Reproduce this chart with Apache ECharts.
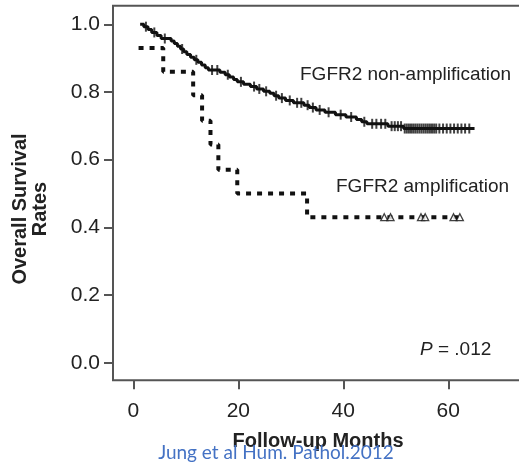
<!DOCTYPE html>
<html>
<head>
<meta charset="utf-8">
<script src="https://cdn.jsdelivr.net/npm/echarts@6/dist/echarts.min.js"></script>
<style>
  html, body { margin: 0; padding: 0; background: #fff; }
  #chart { width: 519px; height: 465px; }
</style>
</head>
<body>
<div id="chart"></div>
<script>
// ticks
const xTicks = [0, 20, 40, 60]
const yTicks = [0, 0.2, 0.4, 0.6, 0.8, 1.0]

// FGFR2 non-amplification (solid curve), step points
const nonAmpTime = [1.3, 2, 2.8, 3.5, 4.5, 5.3, 7.2, 7.8, 8.4, 9, 9.6, 10.2, 10.9, 11.6, 12.3, 13, 13.7, 14.3,
  16.5, 17.5, 18.3, 19.1, 19.8, 21, 22.3, 23.5, 24.8, 26, 26.8, 27.7, 29, 30.5, 32.5, 33.5, 34.8, 36.5,
  38.5, 40.5, 42.5, 43.5, 44.5, 48.5, 51.5, 65]
const nonAmpSurv = [1.0, 0.993, 0.985, 0.976, 0.967, 0.958, 0.951, 0.943, 0.935, 0.927, 0.919, 0.911, 0.903, 0.895, 0.888, 0.88, 0.872, 0.865,
  0.858, 0.851, 0.844, 0.837, 0.83, 0.823, 0.816, 0.809, 0.802, 0.796, 0.789, 0.782, 0.775, 0.768, 0.761, 0.754, 0.747, 0.74,
  0.733, 0.726, 0.719, 0.712, 0.706, 0.699, 0.692, 0.692]
// censored patients (tick marks)
const nonAmpCensorTime = [2.4, 4, 6, 9.3, 12, 15, 16, 18, 20.5, 23, 24, 25.3, 27.2, 28.3, 29.8, 31.2, 32, 33.2, 34.2, 35.5,
  37.2, 39.5, 41.5, 44, 45.5, 46.3, 47.2, 48, 49.2, 49.8, 50.4, 51, 51.7, 52.1, 52.5, 52.9, 53.3, 53.7, 54.1, 54.5, 54.9,
  55.3, 55.7, 56.1, 56.5, 56.9, 57.3, 57.7, 58.3, 59, 59.7, 60.4, 61.1, 61.8, 62.5, 63.2, 64]
const nonAmpCensorSurv = [0.993, 0.976, 0.958, 0.927, 0.895, 0.865, 0.865, 0.851, 0.83, 0.816, 0.809, 0.802, 0.789, 0.782, 0.775, 0.768, 0.768, 0.761, 0.754, 0.747,
  0.74, 0.733, 0.726, 0.712, 0.706, 0.706, 0.706, 0.706, 0.699, 0.699, 0.699, 0.699, 0.692, 0.692, 0.692, 0.692, 0.692, 0.692, 0.692, 0.692, 0.692,
  0.692, 0.692, 0.692, 0.692, 0.692, 0.692, 0.692, 0.692, 0.692, 0.692, 0.692, 0.692, 0.692, 0.692, 0.692, 0.692]

// FGFR2 amplification (dotted curve)
const ampTime = [1, 5.7, 11.4, 13.1, 14.7, 16.2, 19.8, 33.1, 63]
const ampSurv = [0.93, 0.86, 0.79, 0.715, 0.645, 0.57, 0.5, 0.43, 0.43]
const ampCensorTime = [47.8, 49, 54.8, 55.6, 61, 62.2]
const ampCensorSurv = [0.43, 0.43, 0.43, 0.43, 0.43, 0.43]

const zip = (a, b) => a.map((v, i) => [v, b[i]])

const font = 'Liberation Sans, Arial, sans-serif'
const axisGray = '#555'

const chart = echarts.init(document.getElementById('chart'))

const option = {
  animation: false,
  grid: {
    left: 113,
    right: -4,
    top: 5.7,
    bottom: 84.7,
    outerBoundsMode: 'none',
    show: true,
    borderColor: axisGray,
    borderWidth: 2,
    backgroundColor: 'transparent',
  },
  xAxis: {
    type: 'value',
    min: -3.87,
    max: 74.23,
    axisLine: { show: false, onZero: false },
    splitLine: { show: false },
    axisTick: {
      show: true,
      length: 9,
      customValues: xTicks,
      lineStyle: { color: axisGray, width: 2 },
    },
    axisLabel: {
      customValues: xTicks,
      margin: 20,
      fontSize: 21,
      fontFamily: font,
      color: '#222',
    },
  },
  yAxis: {
    type: 'value',
    min: -0.052,
    max: 1.055,
    axisLine: { show: false, onZero: false },
    splitLine: { show: false },
    axisTick: {
      show: true,
      length: 9,
      customValues: yTicks,
      lineStyle: { color: axisGray, width: 2 },
    },
    axisLabel: {
      customValues: yTicks,
      margin: 13,
      fontSize: 21,
      fontFamily: font,
      color: '#222',
      formatter: (v) => v.toFixed(1),
    },
  },
  series: [
    {
      type: 'line',
      step: 'end',
      symbol: 'none',
      data: zip(nonAmpTime, nonAmpSurv),
      lineStyle: { color: '#111', width: 3 },
      z: 3,
    },
    {
      type: 'scatter',
      symbol: 'rect',
      symbolSize: [2, 10],
      data: zip(nonAmpCensorTime, nonAmpCensorSurv),
      itemStyle: { color: '#111' },
      z: 4,
    },
    {
      type: 'line',
      step: 'end',
      symbol: 'none',
      data: zip(ampTime, ampSurv),
      lineStyle: { color: '#111', width: 4, type: [5, 6], cap: 'butt' },
      z: 3,
    },
    {
      type: 'scatter',
      symbol: 'triangle',
      symbolSize: 7,
      data: zip(ampCensorTime, ampCensorSurv),
      itemStyle: { color: '#fff', borderColor: '#111', borderWidth: 1.3 },
      z: 4,
    },
  ],
  graphic: [
    {
      type: 'text',
      x: 300,
      y: 75,
      style: { text: 'FGFR2 non-amplification', font: '19px ' + font, fill: '#222', textVerticalAlign: 'middle' },
    },
    {
      type: 'text',
      x: 336,
      y: 187,
      style: { text: 'FGFR2 amplification', font: '19px ' + font, fill: '#222', textVerticalAlign: 'middle' },
    },
    {
      type: 'text',
      x: 420,
      y: 350,
      style: {
        text: '{i|P} = .012',
        font: '19px ' + font,
        fill: '#222',
        textVerticalAlign: 'middle',
        rich: { i: { fontStyle: 'italic', fontSize: 19, fontFamily: font, fill: '#222' } },
      },
    },
    {
      type: 'text',
      x: 30,
      y: 209,
      rotation: Math.PI / 2,
      style: {
        text: 'Overall Survival\nRates',
        font: 'bold 20px ' + font,
        fill: '#222',
        textAlign: 'center',
        textVerticalAlign: 'middle',
        lineHeight: 20,
      },
    },
    {
      type: 'text',
      x: 318,
      y: 441,
      style: { text: 'Follow-up Months', font: 'bold 20px ' + font, fill: '#222', textAlign: 'center', textVerticalAlign: 'middle' },
    },
    {
      type: 'text',
      x: 276,
      y: 453,
      style: { text: 'Jung et al Hum. Pathol.2012', font: '19px Lato, sans-serif', fill: '#4472C4', textAlign: 'center', textVerticalAlign: 'middle' },
    },
  ],
}

chart.setOption(option)
</script>
</body>
</html>
